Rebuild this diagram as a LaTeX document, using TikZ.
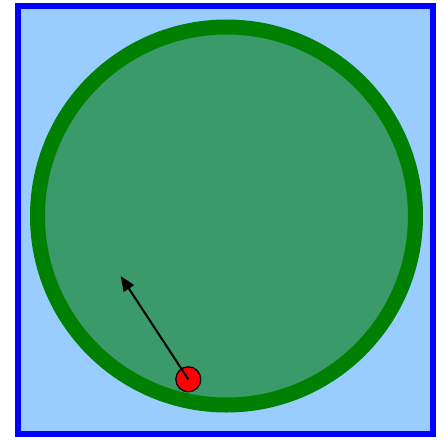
\documentclass[tikz,border=0pt]{standalone}
\usetikzlibrary{arrows.meta}
\definecolor{skyfill}{RGB}{153,204,255}
\definecolor{boxblue}{RGB}{0,0,255}
\definecolor{ringgreen}{RGB}{0,128,0}
\definecolor{pondfill}{RGB}{58,154,106}
\definecolor{ballred}{RGB}{255,0,0}
\tikzset{
  frame/.style={draw=boxblue, line width=6pt, fill=skyfill},
  pond/.style={circle, draw=ringgreen, line width=15pt, fill=pondfill, minimum size=378pt, inner sep=0pt},
  ball/.style={circle, draw=black, line width=1.2pt, fill=ballred, minimum size=25pt, inner sep=0pt},
  vel/.style={line width=2pt, -{Triangle[length=15pt,width=12pt]}}
}
\begin{document}
\begin{tikzpicture}[x=1pt,y=-1pt]
\useasboundingbox (0,0) rectangle (444,439);
\draw[frame] (18,6) rectangle (433,434);
\node[pond] (pond) at (226.5,216) {};
\node[ball] (ball) at (188.3,379.3) {};
\coordinate (tip) at (120.7,276);
\draw[vel] (ball.center) -- (tip);
\end{tikzpicture}
\end{document}
